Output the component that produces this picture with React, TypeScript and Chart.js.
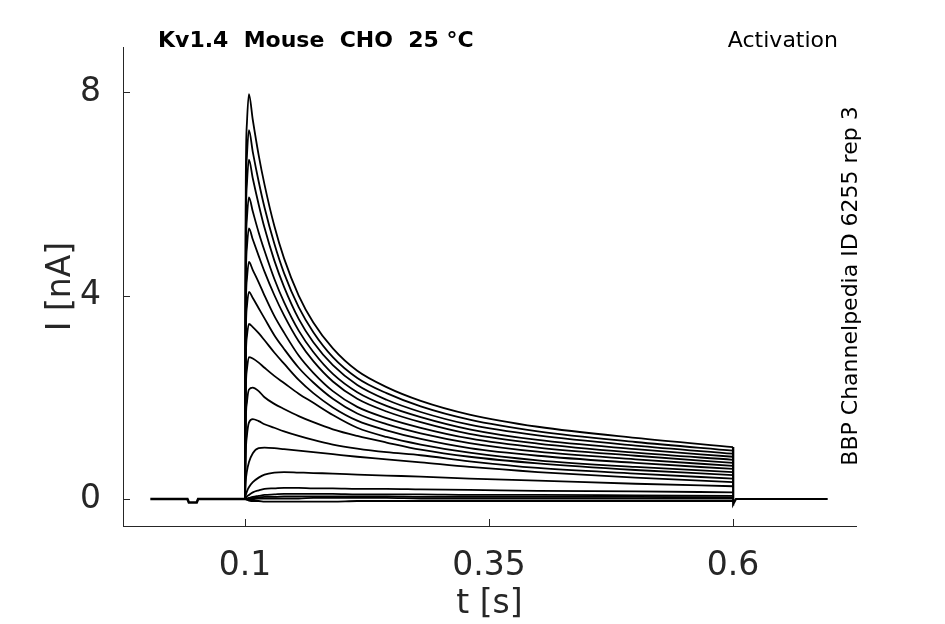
import React, { useEffect, useRef } from 'react'
import { Chart, registerables } from 'chart.js'

Chart.register(...registerables)

const FONT = "'DejaVu Sans', 'Liberation Sans', sans-serif"
const INK = '#262626'

// pulse sweeps, time in s, current in nA
const sweepTimes = [
  0.1, 0.1008, 0.102, 0.104, 0.108, 0.114, 0.12, 0.13, 0.14, 0.155,
  0.17, 0.19, 0.215, 0.245, 0.28, 0.33, 0.4, 0.5, 0.6,
]

const sweeps = [
  [0, 6.2, 7.4, 7.96, 7.45, 6.76, 6.18, 5.37, 4.73, 4.0, 3.47, 2.96, 2.52, 2.2, 1.93, 1.66, 1.42, 1.2, 1.02],
  [0, 5.65, 6.75, 7.25, 6.82, 6.24, 5.73, 5.02, 4.44, 3.77, 3.28, 2.79, 2.38, 2.08, 1.82, 1.56, 1.33, 1.12, 0.95],
  [0, 5.2, 6.2, 6.67, 6.3, 5.79, 5.33, 4.69, 4.17, 3.54, 3.08, 2.63, 2.24, 1.95, 1.71, 1.46, 1.25, 1.05, 0.89],
  [0, 4.62, 5.52, 5.93, 5.65, 5.24, 4.88, 4.33, 3.87, 3.31, 2.89, 2.46, 2.1, 1.83, 1.61, 1.37, 1.16, 0.98, 0.83],
  [0, 4.15, 4.95, 5.32, 5.1, 4.78, 4.47, 4.01, 3.61, 3.1, 2.71, 2.31, 1.97, 1.72, 1.51, 1.28, 1.09, 0.91, 0.77],
  [0, 3.63, 4.33, 4.66, 4.5, 4.26, 4.0, 3.6, 3.27, 2.82, 2.48, 2.12, 1.81, 1.59, 1.4, 1.19, 1.01, 0.85, 0.71],
  [0, 3.17, 3.79, 4.07, 3.95, 3.75, 3.55, 3.22, 2.95, 2.58, 2.29, 1.97, 1.68, 1.47, 1.29, 1.1, 0.93, 0.78, 0.65],
  [0, 2.68, 3.2, 3.44, 3.38, 3.26, 3.12, 2.88, 2.66, 2.34, 2.08, 1.8, 1.54, 1.35, 1.18, 1.0, 0.85, 0.71, 0.59],
  [0, 2.1, 2.55, 2.79, 2.76, 2.68, 2.58, 2.42, 2.28, 2.07, 1.89, 1.65, 1.4, 1.22, 1.07, 0.91, 0.76, 0.63, 0.53],
  [0, 1.5, 1.9, 2.15, 2.19, 2.12, 2.0, 1.87, 1.77, 1.63, 1.51, 1.37, 1.24, 1.11, 0.97, 0.83, 0.7, 0.57, 0.47],
  [0, 0.9, 1.25, 1.5, 1.57, 1.53, 1.47, 1.4, 1.33, 1.24, 1.16, 1.07, 0.99, 0.92, 0.86, 0.74, 0.61, 0.5, 0.4],
  [0, 0.35, 0.55, 0.72, 0.9, 1.0, 1.01, 1.0, 0.98, 0.95, 0.92, 0.88, 0.83, 0.78, 0.72, 0.63, 0.53, 0.42, 0.33],
  [0, 0.08, 0.15, 0.23, 0.33, 0.42, 0.48, 0.52, 0.53, 0.52, 0.51, 0.5, 0.48, 0.46, 0.44, 0.4, 0.36, 0.3, 0.25],
  [0, 0.02, 0.05, 0.08, 0.13, 0.17, 0.2, 0.21, 0.22, 0.22, 0.21, 0.21, 0.2, 0.2, 0.19, 0.18, 0.16, 0.15, 0.13],
  [0, 0, 0.01, 0.02, 0.04, 0.06, 0.08, 0.09, 0.1, 0.1, 0.1, 0.1, 0.09, 0.09, 0.09, 0.08, 0.08, 0.07, 0.06],
  [0, 0, 0, 0.01, 0.02, 0.03, 0.04, 0.04, 0.05, 0.05, 0.05, 0.05, 0.05, 0.05, 0.04, 0.04, 0.04, 0.04, 0.03],
  [0, 0, 0, 0, 0, 0.01, 0.01, 0.01, 0.01, 0.01, 0.02, 0.02, 0.02, 0.02, 0.01, 0.01, 0.01, 0.01, 0.01],
  [0, -0.01, -0.02, -0.03, -0.04, -0.04, -0.05, -0.05, -0.05, -0.05, -0.05, -0.05, -0.04, -0.04, -0.04, -0.04, -0.04, -0.04, -0.04],
]

// holding current before the pulse, step-off and holding after it
const preTimes = [0.003, 0.041, 0.0425, 0.0505, 0.052, 0.1]
const preValues = [0, 0, -0.07, -0.07, 0, 0]
const postTimes = [0.6, 0.6, 0.6004, 0.603, 0.697]
const postValues = [1.02, -0.13, -0.1, 0, 0]

const xTicks = [0.1, 0.35, 0.6]
const xTickLabels = ['0.1', '0.35', '0.6']
const yTicks = [0, 4, 8]
const yTickLabels = ['0', '4', '8']

const titleText = 'Kv1.4  Mouse  CHO  25 °C'
const protocolText = 'Activation'
const sourceText = 'BBP Channelpedia ID 6255 rep 3'

const toPoints = (xs: number[], ys: number[]) => xs.map((x, i) => ({ x, y: ys[i] }))

const decorations = {
  id: 'decorations',
  afterDraw(chart: any) {
    const { ctx, scales } = chart
    const xs = scales.x
    const ys = scales.y
    ctx.save()
    // tick marks point inward, like the original
    ctx.strokeStyle = INK
    ctx.lineWidth = 1
    ctx.beginPath()
    xTicks.forEach((v) => {
      const px = Math.round(xs.getPixelForValue(v)) + 0.5
      ctx.moveTo(px, ys.bottom)
      ctx.lineTo(px, ys.bottom - 7)
    })
    yTicks.forEach((v) => {
      const py = Math.round(ys.getPixelForValue(v)) + 0.5
      ctx.moveTo(xs.left, py)
      ctx.lineTo(xs.left + 7, py)
    })
    ctx.stroke()

    ctx.fillStyle = '#000'
    ctx.textBaseline = 'alphabetic'
    ctx.font = `bold 22px ${FONT}`
    ctx.textAlign = 'left'
    ctx.fillText(titleText, 158, 47)
    ctx.font = `22px ${FONT}`
    ctx.textAlign = 'right'
    ctx.fillText(protocolText, 838, 47)

    ctx.translate(857, 286)
    ctx.rotate(-Math.PI / 2)
    ctx.textAlign = 'center'
    ctx.fillText(sourceText, 0, 0)
    ctx.restore()
  },
}

const App = () => {
  const canvasRef = useRef<HTMLCanvasElement>(null)

  useEffect(() => {
    if (!canvasRef.current) return
    const ctx = canvasRef.current.getContext('2d')
    if (!ctx) return

    const lineBase = {
      borderColor: '#000000',
      backgroundColor: '#000000',
      pointRadius: 0,
      fill: false,
    }

    const datasets: any[] = [
      { ...lineBase, data: toPoints(preTimes, preValues), borderWidth: 2.6, tension: 0 },
      { ...lineBase, data: toPoints(postTimes, postValues), borderWidth: 2.2, tension: 0 },
      ...sweeps.map((values) => ({
        ...lineBase,
        data: toPoints(sweepTimes, values),
        borderWidth: 1.8,
        cubicInterpolationMode: 'monotone',
      })),
    ]

    const chart = new Chart(ctx, {
      type: 'line',
      data: { datasets },
      options: {
        animation: false,
        responsive: true,
        maintainAspectRatio: false,
        layout: { padding: { left: 0, top: 47, right: 89, bottom: 0 } },
        plugins: {
          legend: { display: false },
          tooltip: { enabled: false },
        },
        scales: {
          x: {
            type: 'linear',
            min: -0.025,
            max: 0.726,
            afterBuildTicks: (scale: any) => {
              scale.ticks = xTicks.map((value) => ({ value }))
            },
            afterFit: (scale: any) => {
              scale.height = 98
            },
            ticks: {
              autoSkip: false,
              maxRotation: 0,
              padding: 13,
              color: INK,
              font: { family: FONT, size: 33 },
              callback: (_v: any, i: number) => xTickLabels[i],
            },
            grid: { display: false },
            border: { display: true, color: INK, width: 1 },
            title: {
              display: true,
              text: 't [s]',
              color: INK,
              font: { family: FONT, size: 33 },
              padding: { top: 0, bottom: 0 },
            },
          },
          y: {
            type: 'linear',
            min: -0.531,
            max: 8.885,
            afterBuildTicks: (scale: any) => {
              scale.ticks = yTicks.map((value) => ({ value }))
            },
            afterFit: (scale: any) => {
              scale.width = 123
            },
            ticks: {
              autoSkip: false,
              padding: 14,
              color: INK,
              font: { family: FONT, size: 33 },
              callback: (_v: any, i: number) => yTickLabels[i],
            },
            grid: { display: false },
            border: { display: true, color: INK, width: 1 },
            title: {
              display: true,
              text: 'I [nA]',
              color: INK,
              font: { family: FONT, size: 33 },
              padding: { top: 42, bottom: 0 },
            },
          },
        },
      },
      plugins: [decorations],
    })

    return () => {
      chart.destroy()
    }
  }, [])

  return (
    <div style={{ position: 'absolute', left: 0, top: 0, width: 945, height: 624, background: '#fff' }}>
      <canvas ref={canvasRef} />
    </div>
  )
}

export default App
